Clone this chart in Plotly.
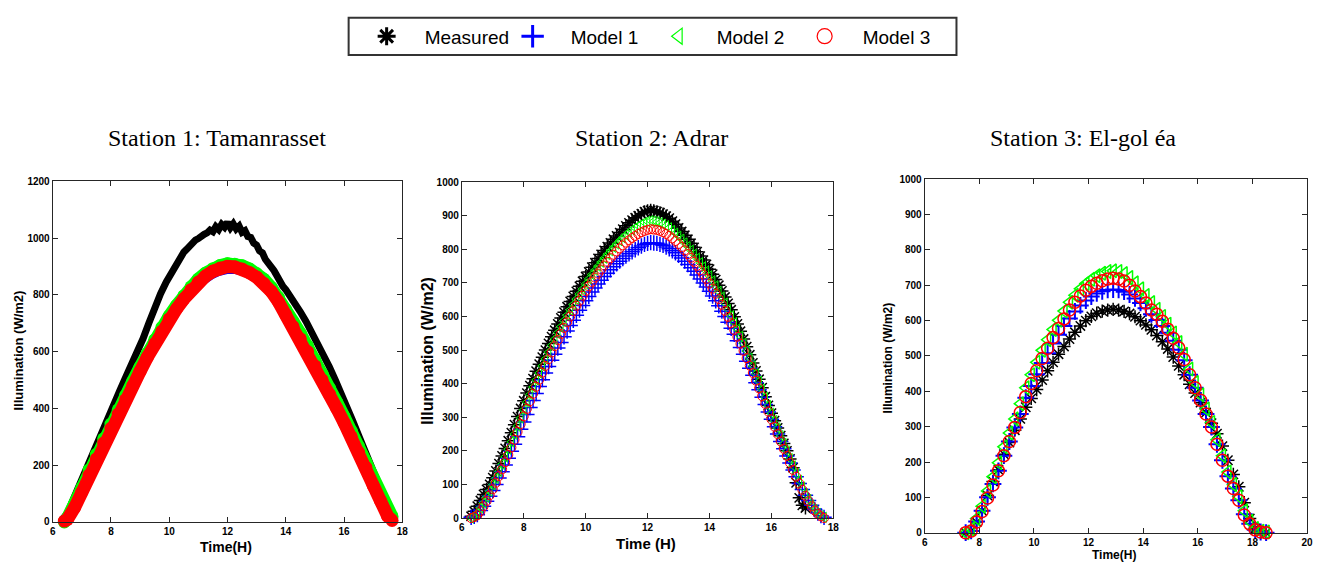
import plotly.graph_objects as go

# ---------------- data ----------------
# Station 1 (Tamanrasset)
t1_meas = [6.3, 6.5, 6.7, 6.9, 7.1, 7.3, 7.5, 7.7, 7.9, 8.1, 8.3, 8.5, 8.7, 8.9, 9.1, 9.3, 9.5, 9.7, 9.9, 10.1,
           10.2, 10.3, 10.4, 10.5, 10.6, 10.7, 10.8, 10.9, 11.0, 11.1, 11.2, 11.3, 11.4, 11.5, 11.6, 11.7, 11.8, 11.9,
           12.0, 12.1, 12.2, 12.3, 12.4, 12.5, 12.6, 12.7, 12.8, 12.9, 13.0, 13.1, 13.2, 13.3, 13.4, 13.5, 13.6, 13.7,
           13.8, 13.9, 14.0, 14.1, 14.2, 14.3,
           14.5, 14.7, 14.9, 15.1, 15.3, 15.5, 15.7, 15.9, 16.1, 16.3, 16.5, 16.7, 16.9, 17.1, 17.3, 17.5, 17.7]
s1_measured = [5, 30, 78, 128, 178, 228, 275, 325, 372, 420, 462, 508, 550, 596, 645, 700, 755, 803, 845, 880,
               900, 920, 935, 950, 960, 972, 982, 993, 998, 1008, 1013, 1018, 1028, 1022, 1040, 1030, 1048, 1038,
               1055, 1036, 1050, 1032, 1042, 1020, 1026, 1005, 1002, 982, 975, 955, 948, 925, 915, 898, 885, 862,
               852, 830, 818, 800, 790, 770,
               740, 705, 668, 628, 588, 546, 500, 455, 408, 356, 305, 255, 203, 150, 100, 55, 18]
t1_model = [6.4, 6.5, 6.75, 7.0, 7.25, 7.5, 7.75, 8.0, 8.25, 8.5, 8.75, 9.0, 9.25, 9.5, 9.75, 10.0, 10.25, 10.5,
            10.75, 11.0, 11.25, 11.5, 11.75, 12.0, 12.25, 12.5, 12.75, 13.0, 13.25, 13.5, 13.75, 14.0, 14.25, 14.5,
            14.75, 15.0, 15.25, 15.5, 15.75, 16.0, 16.25, 16.5, 16.75, 17.0, 17.25, 17.5, 17.65]
s1_model1 = [0, 25, 75, 128, 185, 240, 292, 342, 390, 438, 485, 530, 575, 618, 658, 695, 730, 762, 792, 818,
             840, 858, 870, 876, 876, 870, 860, 845, 825, 800, 768, 730, 690, 648, 604, 558, 510, 462, 414, 365,
             315, 263, 210, 152, 97, 42, 15]
s1_model2 = [0, 12, 64, 120, 183, 238, 293, 345, 395, 445, 495, 545, 594, 641, 685, 725, 762, 796, 828, 855,
             876, 892, 903, 909, 908, 902, 891, 875, 854, 826, 791, 748, 706, 664, 620, 571, 521, 471, 421, 371,
             320, 266, 212, 150, 96, 42, 18]
s1_model3 = [3, 8, 50, 105, 165, 222, 278, 330, 380, 430, 480, 530, 580, 628, 672, 715, 750, 785, 818, 845,
             866, 883, 894, 900, 898, 891, 878, 862, 840, 812, 775, 730, 688, 645, 600, 550, 500, 450, 400, 350,
             300, 245, 192, 128, 75, 20, 5]

# Station 2 (Adrar)
t2_model = [6.3, 6.4, 6.5, 6.6, 6.7, 6.8, 6.9, 7.0, 7.1, 7.2,
            7.3, 7.4, 7.5, 7.6, 7.7, 7.8, 7.9, 8.0, 8.1, 8.2,
            8.3, 8.4, 8.5, 8.6, 8.7, 8.8, 8.9, 9.0, 9.1, 9.2,
            9.3, 9.4, 9.5, 9.6, 9.7, 9.8, 9.9, 10.0, 10.1, 10.2,
            10.3, 10.4, 10.5, 10.6, 10.7, 10.8, 10.9, 11.0, 11.1, 11.2,
            11.3, 11.4, 11.5, 11.6, 11.7, 11.8, 11.9, 12.0, 12.1, 12.2,
            12.3, 12.4, 12.5, 12.6, 12.7, 12.8, 12.9, 13.0, 13.1, 13.2,
            13.3, 13.4, 13.5, 13.6, 13.7, 13.8, 13.9, 14.0, 14.1, 14.2,
            14.3, 14.4, 14.5, 14.6, 14.7, 14.8, 14.9, 15.0, 15.1, 15.2,
            15.3, 15.4, 15.5, 15.6, 15.7, 15.8, 15.9, 16.0, 16.1, 16.2,
            16.3, 16.4, 16.5, 16.6, 16.7, 16.8, 16.9, 17.0, 17.1, 17.2,
            17.3, 17.4, 17.5, 17.6, 17.7]
t2_meas = t2_model[:109]  # measured series stops at 17.1 h
s2_measured = [5, 20, 35, 52, 70, 85, 100, 120, 140, 162,
               185, 207, 230, 254, 278, 302, 326, 349, 372, 394,
               415, 437, 458, 479, 500, 520, 540, 559, 578, 596,
               613, 629, 645, 660, 675, 690, 705, 719, 733, 747,
               760, 773, 785, 797, 808, 819, 830, 840, 850, 860,
               870, 879, 887, 894, 900, 906, 912, 915, 916, 915,
               912, 909, 905, 899, 893, 884, 875, 864, 853, 842,
               830, 818, 806, 793, 780, 768, 755, 741, 726, 710,
               693, 676, 658, 639, 620, 599, 578, 556, 533, 510,
               486, 462, 438, 413, 388, 361, 335, 312, 290, 268,
               245, 222, 200, 176, 150, 105, 60, 38, 30]
s2_model1 = [2, 5, 10, 22, 35, 50, 65, 82, 100, 119,
             138, 158, 178, 199, 220, 242, 264, 286, 308, 329,
             350, 371, 392, 412, 432, 451, 470, 488, 506, 523,
             540, 557, 573, 589, 604, 619, 633, 647, 660, 673,
             685, 697, 708, 719, 729, 739, 748, 757, 765, 773,
             780, 787, 793, 799, 805, 810, 815, 818, 820, 819,
             818, 815, 812, 807, 802, 796, 790, 782, 774, 765,
             755, 745, 735, 724, 712, 700, 688, 675, 661, 647,
             632, 616, 600, 583, 565, 547, 528, 508, 488, 467,
             446, 425, 403, 382, 360, 338, 316, 294, 272, 250,
             228, 206, 185, 164, 143, 123, 103, 85, 68, 52,
             38, 25, 15, 7, 2]
s2_model2 = [0, 7, 15, 30, 45, 62, 80, 99, 118, 139,
             160, 182, 205, 227, 250, 274, 298, 322, 345, 368,
             390, 411, 432, 453, 474, 494, 514, 533, 552, 570,
             588, 604, 620, 636, 652, 667, 682, 697, 712, 725,
             738, 750, 762, 774, 785, 796, 806, 816, 826, 835,
             843, 851, 858, 864, 870, 875, 880, 883, 885, 884,
             882, 879, 875, 870, 864, 856, 848, 839, 830, 819,
             808, 797, 785, 773, 760, 748, 735, 721, 706, 691,
             675, 658, 640, 621, 602, 582, 562, 541, 520, 498,
             476, 453, 430, 407, 383, 359, 335, 312, 290, 268,
             245, 222, 200, 177, 155, 133, 112, 92, 72, 55,
             38, 25, 14, 7, 2]
s2_model3 = [0, 3, 8, 20, 35, 51, 68, 86, 105, 125,
             145, 166, 188, 210, 233, 257, 280, 303, 325, 348,
             370, 391, 412, 433, 453, 473, 493, 512, 530, 548,
             566, 583, 600, 616, 632, 647, 662, 676, 690, 703,
             716, 728, 740, 752, 763, 774, 784, 794, 803, 812,
             820, 827, 834, 840, 846, 851, 855, 858, 860, 859,
             858, 855, 851, 846, 840, 833, 825, 816, 807, 797,
             786, 775, 763, 751, 738, 725, 712, 698, 683, 668,
             652, 635, 617, 599, 580, 560, 540, 519, 498, 476,
             454, 432, 409, 386, 363, 340, 317, 294, 272, 250,
             228, 206, 185, 164, 143, 123, 103, 84, 66, 50,
             35, 22, 12, 5, 0]

# Station 3 (El-golea)
t3 = [7.5, 7.7, 7.9, 8.1, 8.3, 8.5, 8.7, 8.9, 9.1, 9.3, 9.5, 9.7, 9.9, 10.1, 10.3, 10.5, 10.7, 10.9, 11.1, 11.3,
      11.5, 11.7, 11.9, 12.1, 12.3, 12.5, 12.7, 12.9, 13.1, 13.3, 13.5, 13.7, 13.9, 14.1, 14.3, 14.5, 14.7, 14.9,
      15.1, 15.3, 15.5, 15.7, 15.9, 16.1, 16.3, 16.5, 16.7, 16.9, 17.1, 17.3, 17.5, 17.7, 17.9, 18.1, 18.3, 18.5]
s3_measured = [0, 5, 30, 62, 105, 145, 178, 222, 255, 290, 322, 355, 380, 405, 432, 458, 482, 505, 527, 548,
               567, 585, 600, 612, 621, 627, 630, 632, 630, 626, 620, 611, 600, 588, 574, 558, 540, 520, 497, 472,
               447, 420, 395, 368, 340, 310, 280, 245, 205, 165, 130, 85, 40, 12, 2, 0]
s3_model1 = [0, 5, 32, 62, 100, 138, 175, 218, 258, 298, 336, 382, 415, 448, 480, 508, 535, 560, 585, 606,
             626, 643, 657, 668, 677, 683, 687, 688, 687, 682, 674, 663, 650, 635, 618, 602, 585, 566, 543, 518,
             488, 447, 410, 374, 336, 299, 250, 205, 160, 125, 92, 52, 25, 8, 2, 0]
s3_model2 = [0, 10, 40, 75, 118, 158, 198, 243, 282, 322, 365, 410, 447, 482, 516, 546, 575, 601, 627, 652,
             672, 690, 705, 717, 727, 734, 739, 741, 739, 733, 722, 707, 690, 671, 651, 632, 612, 590, 565, 538,
             505, 463, 425, 390, 350, 312, 263, 218, 172, 136, 102, 62, 32, 12, 4, 2]
s3_model3 = [0, 5, 30, 60, 98, 135, 175, 218, 258, 298, 340, 385, 422, 458, 493, 522, 552, 578, 605, 630,
             652, 670, 686, 697, 706, 713, 718, 720, 718, 712, 700, 684, 668, 650, 630, 618, 598, 576, 550, 523,
             490, 447, 410, 375, 336, 299, 250, 205, 160, 125, 92, 50, 25, 8, 2, 0]

series_names = ["Measured", "Model 1", "Model 2", "Model 3"]
station_titles = ["Station 1: Tamanrasset", "Station 2: Adrar", "Station 3: El-gol éa"]
x_titles = ["Time(H)", "Time (H)", "Time(H)"]
y_title = "Illumination (W/m2)"

# ---------------- figure ----------------
W, H = 1325, 571
def px(x):
    return x / W
def py(y):
    return 1 - y / H

BLACK, BLUE, GREEN, RED = "#000000", "#0000ff", "#00ff00", "#ff0000"
SANS = "Liberation Sans, Arial, sans-serif"

fig = go.Figure()

# Station 1: dense data -> thick bands
fig.add_trace(go.Scatter(x=t1_meas, y=s1_measured, mode="lines", line=dict(color=BLACK, width=7),
                         xaxis="x", yaxis="y", showlegend=False, cliponaxis=False))
fig.add_trace(go.Scatter(x=t1_model, y=s1_model1, mode="lines", line=dict(color=BLUE, width=1.5),
                         xaxis="x", yaxis="y", showlegend=False, cliponaxis=False))
fig.add_trace(go.Scatter(x=t1_model, y=s1_model2, mode="lines+markers", line=dict(color=GREEN, width=13),
                         marker=dict(symbol="circle", size=13, color=GREEN),
                         xaxis="x", yaxis="y", showlegend=False, cliponaxis=False))
fig.add_trace(go.Scatter(x=t1_model, y=s1_model3, mode="lines+markers", line=dict(color=RED, width=13),
                         marker=dict(symbol="circle", size=13, color=RED),
                         xaxis="x", yaxis="y", showlegend=False, cliponaxis=False))

# Station 2
fig.add_trace(go.Scatter(x=t2_meas, y=s2_measured, mode="markers",
                         marker=dict(symbol="asterisk-open", size=11, color=BLACK, line=dict(width=1.5)),
                         xaxis="x2", yaxis="y2", showlegend=False, cliponaxis=False))
fig.add_trace(go.Scatter(x=t2_model, y=s2_model1, mode="markers",
                         marker=dict(symbol="cross-thin-open", size=11, color=BLUE, line=dict(width=1.5)),
                         xaxis="x2", yaxis="y2", showlegend=False, cliponaxis=False))
fig.add_trace(go.Scatter(x=t2_model, y=s2_model2, mode="markers",
                         marker=dict(symbol="triangle-left-open", size=9, color=GREEN, line=dict(width=1)),
                         xaxis="x2", yaxis="y2", showlegend=False, cliponaxis=False))
fig.add_trace(go.Scatter(x=t2_model, y=s2_model3, mode="markers",
                         marker=dict(symbol="circle-open", size=9, color=RED, line=dict(width=1)),
                         xaxis="x2", yaxis="y2", showlegend=False, cliponaxis=False))

# Station 3
fig.add_trace(go.Scatter(x=t3, y=s3_measured, mode="markers",
                         marker=dict(symbol="asterisk-open", size=11, color=BLACK, line=dict(width=1.5)),
                         xaxis="x3", yaxis="y3", showlegend=False, cliponaxis=False))
fig.add_trace(go.Scatter(x=t3, y=s3_model1, mode="markers",
                         marker=dict(symbol="cross-thin-open", size=12, color=BLUE, line=dict(width=2)),
                         xaxis="x3", yaxis="y3", showlegend=False, cliponaxis=False))
fig.add_trace(go.Scatter(x=t3, y=s3_model2, mode="markers",
                         marker=dict(symbol="triangle-left-open", size=12, color=GREEN, line=dict(width=1.5)),
                         xaxis="x3", yaxis="y3", showlegend=False, cliponaxis=False))
fig.add_trace(go.Scatter(x=t3, y=s3_model3, mode="markers",
                         marker=dict(symbol="circle-open", size=12, color=RED, line=dict(width=1.5)),
                         xaxis="x3", yaxis="y3", showlegend=False, cliponaxis=False))

# legend entries
legend_markers = [
    dict(symbol="asterisk-open", size=15, color=BLACK, line=dict(width=3)),
    dict(symbol="cross-thin-open", size=16, color=BLUE, line=dict(width=3)),
    dict(symbol="triangle-left-open", size=14, color=GREEN, line=dict(width=1.2)),
    dict(symbol="circle-open", size=15, color=RED, line=dict(width=1.2)),
]
for name, mk in zip(series_names, legend_markers):
    fig.add_trace(go.Scatter(x=[None], y=[None], mode="markers", marker=mk, name=name,
                             xaxis="x", yaxis="y", showlegend=True))

tickfont = dict(family=SANS, size=10, color="black", weight="bold")
def axis(domain, rng, dtick, anchor):
    return dict(domain=domain, range=rng, dtick=dtick, tick0=0, anchor=anchor,
                showline=True, linecolor="#262626", linewidth=1, mirror="allticks",
                ticks="inside", ticklen=5, tickcolor="#262626", showgrid=False, zeroline=False,
                tickfont=tickfont)

fig.update_layout(
    width=W, height=H, paper_bgcolor="white", plot_bgcolor="white",
    margin=dict(l=0, r=0, t=0, b=0),
    xaxis=axis([px(50), px(402)], [6, 18], 2, "y"),
    yaxis=axis([py(527), py(179)], [0, 1200], 200, "x"),
    xaxis2=axis([px(462), px(836)], [6, 18], 2, "y2"),
    yaxis2=axis([py(523), py(180)], [0, 1000], 100, "x2"),
    xaxis3=axis([px(928), px(1313)], [6, 20], 2, "y3"),
    yaxis3=axis([py(538), py(177)], [0, 1000], 100, "x3"),
    legend=dict(orientation="h", x=px(348), y=py(31), xanchor="left", yanchor="middle",
                itemwidth=66, entrywidth=65, entrywidthmode="pixels",
                bgcolor="rgba(0,0,0,0)", borderwidth=0,
                font=dict(family=SANS, size=19, color="black")),
    shapes=[dict(type="rect", xref="paper", yref="paper", x0=px(348), x1=px(960), y0=py(50), y1=py(12),
                 line=dict(color="#333333", width=2), fillcolor="rgba(0,0,0,0)")],
)

ann = []
title_x = [215, 653, 1087]
for tx, txt in zip(title_x, station_titles):
    ann.append(dict(text=txt, x=px(tx), y=py(135), xref="paper", yref="paper", showarrow=False,
                    xanchor="center", yanchor="middle",
                    font=dict(family="Liberation Serif, Times New Roman, serif", size=24, color="black")))
xt_pos = [(225, 553, 14), (647, 549, 15), (1119, 561, 12)]
for (xx, yy, fs), txt in zip(xt_pos, x_titles):
    ann.append(dict(text=txt, x=px(xx), y=py(yy), xref="paper", yref="paper", showarrow=False,
                    xanchor="center", yanchor="middle",
                    font=dict(family=SANS, size=fs, color="black", weight="bold")))
yt_pos = [(16, 352, 13), (428, 352, 16), (892, 359, 12)]
for xx, yy, fs in yt_pos:
    ann.append(dict(text=y_title, x=px(xx), y=py(yy), xref="paper", yref="paper", showarrow=False,
                    xanchor="center", yanchor="middle", textangle=-90,
                    font=dict(family=SANS, size=fs, color="black", weight="bold")))
fig.update_layout(annotations=ann)

fig.write_html("out.html", config={"displayModeBar": False},
               post_script="document.body.style.margin='0px';document.body.style.overflow='hidden';")
